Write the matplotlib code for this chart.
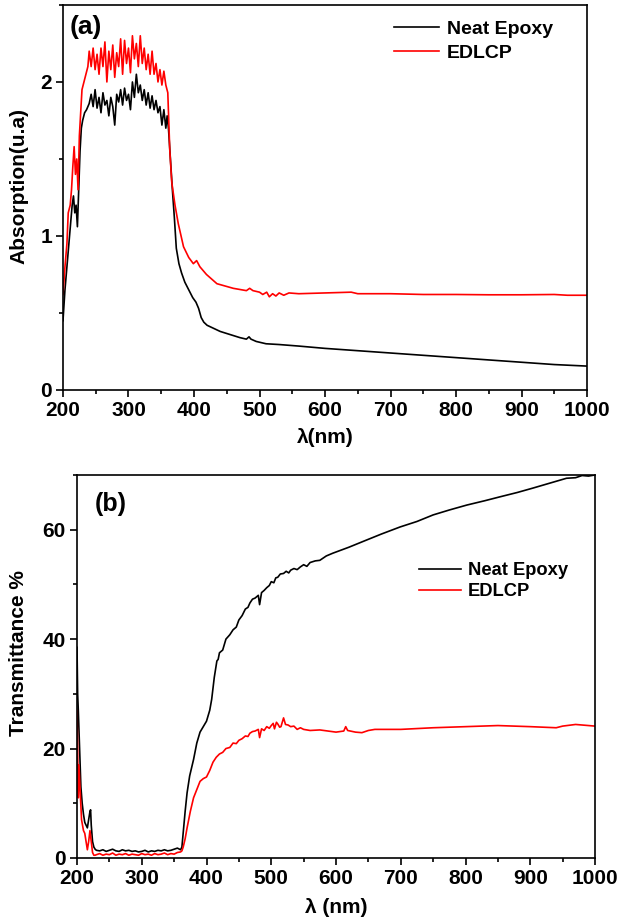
import matplotlib
matplotlib.use("Agg")
import matplotlib.pyplot as plt
from matplotlib.ticker import MultipleLocator

plt.rcParams['font.family'] = ['Liberation Sans', 'DejaVu Sans']
plt.rcParams['font.weight'] = 'bold'

# ---------- Panel (a): absorption ----------
abs_neat_x = [200, 203, 206, 209, 212, 214, 216, 218, 220, 222, 224, 226, 228, 230, 233, 236,
              240, 243, 246, 249, 252, 255, 258, 261, 264, 267, 270, 273, 276, 279, 282, 285,
              288, 291, 294, 297, 300, 303, 306, 309, 312, 315, 318, 321, 324, 327, 330, 333,
              336, 339, 342, 345, 348, 351, 354, 357, 359, 361, 364, 367, 370, 373, 377, 381,
              386, 392, 398, 403, 407, 411, 415, 420, 430, 440, 455, 470, 480, 484, 487, 495,
              510, 530, 560, 600, 650, 700, 750, 800, 850, 900, 950, 1000]
abs_neat_y = [0.45, 0.65, 0.8, 0.95, 1.1, 1.2, 1.26, 1.15, 1.2, 1.06, 1.3, 1.55, 1.7, 1.75, 1.8, 1.82,
              1.86, 1.92, 1.84, 1.95, 1.83, 1.9, 1.8, 1.93, 1.85, 1.88, 1.78, 1.9, 1.84, 1.72, 1.92, 1.87,
              1.95, 1.85, 1.96, 1.88, 1.92, 1.82, 2.0, 1.9, 2.05, 1.93, 1.98, 1.88, 1.95, 1.85, 1.93, 1.83,
              1.91, 1.82, 1.88, 1.8, 1.84, 1.72, 1.82, 1.7, 1.78, 1.7, 1.5, 1.3, 1.12, 0.92, 0.82, 0.76,
              0.7, 0.65, 0.6, 0.57, 0.53, 0.47, 0.44, 0.42, 0.4, 0.38, 0.36, 0.34, 0.33, 0.345, 0.33, 0.315,
              0.3, 0.295, 0.285, 0.27, 0.255, 0.24, 0.225, 0.21, 0.195, 0.18, 0.165, 0.155]

abs_edlcp_x = [200, 203, 206, 208, 211, 213, 215, 217, 219, 221, 223, 225, 227, 229, 232, 235,
               238, 240, 243, 246, 249, 252, 255, 258, 261, 264, 267, 270, 273, 276, 279, 282,
               285, 288, 291, 294, 297, 300, 303, 306, 309, 312, 315, 318, 321, 324, 327, 330,
               333, 336, 339, 342, 345, 348, 351, 354, 357, 360, 363, 366, 371, 376, 384, 392,
               399, 404, 409, 419, 435, 460, 480, 485, 490, 500, 505, 511, 515, 520, 525, 530,
               537, 545, 560, 600, 640, 650, 700, 750, 800, 850, 900, 950, 970, 1000]
abs_edlcp_y = [0.62, 0.8, 0.95, 1.15, 1.2, 1.3, 1.45, 1.58, 1.4, 1.5, 1.3, 1.65, 1.8, 1.95, 2.0, 2.05,
               2.1, 2.2, 2.1, 2.22, 2.08, 2.18, 2.05, 2.22, 2.1, 2.26, 2.0, 2.2, 2.08, 2.24, 2.03, 2.19,
               2.1, 2.28, 2.05, 2.27, 2.12, 2.22, 2.06, 2.3, 2.15, 2.25, 2.1, 2.3, 2.12, 2.22, 2.08, 2.18,
               2.05, 2.2, 2.05, 2.12, 2.0, 2.08, 1.98, 2.07, 1.98, 1.93, 1.56, 1.35, 1.2, 1.08, 0.93, 0.86,
               0.82, 0.84, 0.8, 0.75, 0.69, 0.66, 0.645, 0.66, 0.645, 0.635, 0.62, 0.635, 0.605, 0.625, 0.61, 0.63,
               0.615, 0.63, 0.625, 0.63, 0.635, 0.625, 0.625, 0.62, 0.62, 0.618, 0.618, 0.62, 0.615, 0.615]

# ---------- Panel (b): transmittance ----------
tr_neat_x = [200, 201, 202, 204, 206, 208, 210, 212, 214, 216, 218, 220, 221, 222, 224, 226, 228,
             230, 235, 240, 245, 250, 255, 260, 265, 270, 275, 280, 285, 290, 295, 300, 305, 310,
             315, 320, 325, 330, 335, 340, 345, 350, 355, 360, 362, 364, 367, 370, 374, 380, 385,
             390, 395, 400, 405, 408, 412, 416, 418, 420, 425, 430, 436, 441, 446, 450, 455, 460,
             464, 467, 471, 475, 480, 482, 485, 489, 493, 497, 500, 504, 507, 510, 514, 519, 523,
             527, 530, 535, 540, 545, 550, 555, 560, 568, 575, 585, 595, 620, 647, 670, 699, 725,
             750, 775, 802, 830, 853, 880, 904, 930, 956, 970, 980, 990, 1000]
tr_neat_y = [38.5, 30, 27, 20, 13, 10, 8, 6.5, 6, 5.5, 7, 8.5, 8.8, 6, 3, 2, 1.6,
             1.4, 1.3, 1.5, 1.2, 1.4, 1.6, 1.3, 1.2, 1.5, 1.3, 1.4, 1.2, 1.3, 1.1, 1.2, 1.4, 1.1,
             1.3, 1.2, 1.4, 1.3, 1.5, 1.3, 1.4, 1.6, 1.8, 1.5, 2.0, 4.6, 8.5, 11.9, 15, 18, 21,
             23, 24, 25, 27, 29, 33, 36, 36.3, 37.5, 38, 40, 40.8, 41.7, 42.2, 43.5, 44.3, 45.5,
             45.8, 46.6, 47.3, 47.5, 48, 46.3, 48.5, 48.9, 49.4, 49.8, 50.5, 50.3, 51.2, 51.3, 51.9, 52, 52.4,
             52.1, 52.6, 52.9, 52.7, 53.2, 53.6, 53.3, 54, 54.3, 54.4, 55.2, 55.7, 56.8, 58.1, 59.2, 60.5, 61.5,
             62.7, 63.6, 64.5, 65.3, 66, 66.8, 67.6, 68.5, 69.4, 69.5, 69.9, 69.8, 70]

tr_edlcp_x = [200, 201, 202, 203, 205, 207, 210, 212, 214, 216, 218, 220, 222, 224, 226, 228,
              230, 235, 240, 245, 250, 255, 260, 265, 270, 275, 280, 285, 290, 295, 300, 305, 310,
              315, 320, 325, 330, 335, 340, 345, 350, 355, 360, 362, 364, 367, 370, 375, 380, 385,
              390, 395, 400, 405, 410, 415, 420, 425, 430, 436, 441, 446, 450, 455, 460, 464, 467,
              471, 475, 480, 482, 485, 489, 493, 497, 500, 503, 505, 508, 510, 513, 515, 519, 522,
              526, 530, 535, 540, 545, 550, 560, 575, 600, 612, 615, 618, 630, 640,
              650, 660, 700, 750, 800, 850, 900, 940, 950, 970, 1000]
tr_edlcp_y = [27, 20, 11, 17, 12, 7, 5, 4.5, 3, 1.5, 3, 5, 3, 1, 0.5, 0.5,
              0.6, 0.8, 0.5, 0.7, 0.6, 0.9, 0.5, 0.7, 0.6, 0.8, 0.5, 0.7, 0.6, 0.5, 0.8, 0.6, 0.7,
              0.5, 0.8, 0.6, 0.7, 0.9, 0.6, 0.8, 0.7, 1.0, 1.1, 1.3, 2.0, 3.5, 5.5, 8.5, 11, 12.5,
              14, 14.5, 14.8, 16, 17.5, 18.4, 19, 19.3, 20, 20.2, 21, 20.9, 21.5, 21.8, 22.3, 22.2, 22.8,
              23.1, 23.2, 23.5, 22, 23.6, 23.3, 24, 23.7, 24.2, 24.6, 23.6, 24.8, 24.5, 23.9, 24, 25.6, 24.4,
              24.3, 24, 24.1, 23.5, 23.8, 23.5, 23.3, 23.4, 23, 23.2, 24, 23.3, 23, 22.9,
              23.3, 23.5, 23.5, 23.8, 24, 24.2, 24, 23.8, 24.1, 24.4, 24.1]

neat_color = 'black'
edlcp_color = '#ff0000'

fig = plt.figure(figsize=(6.2, 9.18), dpi=100)
ax1 = fig.add_axes([0.1016, 0.5752, 0.8452, 0.4194])
ax2 = fig.add_axes([0.1242, 0.0654, 0.8355, 0.4172])

ax1.plot(abs_neat_x, abs_neat_y, color=neat_color, lw=1.2, label='Neat Epoxy')
ax1.plot(abs_edlcp_x, abs_edlcp_y, color=edlcp_color, lw=1.2, label='EDLCP')
ax2.plot(tr_neat_x, tr_neat_y, color=neat_color, lw=1.2, label='Neat Epoxy')
ax2.plot(tr_edlcp_x, tr_edlcp_y, color=edlcp_color, lw=1.2, label='EDLCP')

ax1.set_xlim(200, 1000)
ax1.set_ylim(0, 2.5)
ax2.set_xlim(200, 1000)
ax2.set_ylim(0, 70)

ax1.xaxis.set_major_locator(MultipleLocator(100))
ax1.xaxis.set_minor_locator(MultipleLocator(50))
ax1.yaxis.set_major_locator(MultipleLocator(1))
ax1.yaxis.set_minor_locator(MultipleLocator(0.5))
ax2.xaxis.set_major_locator(MultipleLocator(100))
ax2.xaxis.set_minor_locator(MultipleLocator(50))
ax2.yaxis.set_major_locator(MultipleLocator(20))
ax2.yaxis.set_minor_locator(MultipleLocator(10))

for ax in (ax1, ax2):
    for s in ax.spines.values():
        s.set_linewidth(1.2)
    ax.tick_params(which='major', direction='out', length=5, width=1.2, labelsize=15, pad=3)
    ax.tick_params(which='minor', direction='out', length=3, width=1.2)
    ax.tick_params(top=False, right=False, which='both')
    for lab in ax.get_xticklabels() + ax.get_yticklabels():
        lab.set_fontweight('bold')

ax1.set_xlabel('λ(nm)', fontsize=15, fontweight='bold', labelpad=6)
ax1.set_ylabel('Absorption(u.a)', fontsize=15, fontweight='bold')
ax1.yaxis.set_label_coords(-0.066, 0.53)
ax2.set_xlabel('λ (nm)', fontsize=15, fontweight='bold', labelpad=7)
ax2.set_ylabel('Transmittance %', fontsize=15, fontweight='bold')
ax2.yaxis.set_label_coords(-0.094, 0.535)

ax1.text(0.013, 0.975, '(a)', transform=ax1.transAxes, fontsize=19, fontweight='bold', va='top')
ax2.text(0.035, 0.955, '(b)', transform=ax2.transAxes, fontsize=18, fontweight='bold', va='top')

leg1 = ax1.legend(loc='upper right', bbox_to_anchor=(0.968, 1.005), frameon=False,
                  prop={'weight': 'bold', 'size': 14}, handlelength=2.3, handletextpad=0.4,
                  labelspacing=0.3)
leg2 = ax2.legend(loc='upper right', bbox_to_anchor=(0.98, 0.815), frameon=False,
                  prop={'weight': 'bold', 'size': 13.2}, handlelength=2.3, handletextpad=0.4,
                  labelspacing=0.2)

fig.savefig('out.png', dpi=100)
